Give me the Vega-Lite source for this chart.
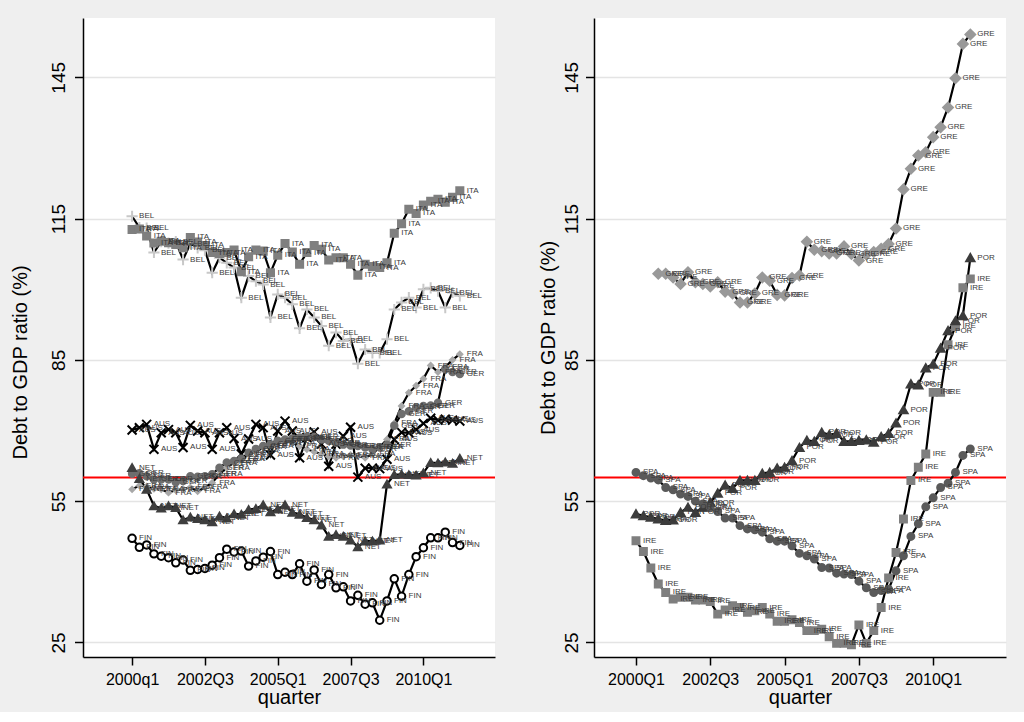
{
  "$schema": "https://vega.github.io/schema/vega-lite/v6.json",
  "autosize": {"type": "pad"},
  "padding": {"left": 10, "top": 18, "right": 18, "bottom": 5},
  "background": "#efefef",
  "spacing": 99,
  "bounds": "flush",
  "resolve": {"scale": {"shape": "independent", "fill": "independent", "stroke": "independent", "size": "independent", "color": "independent"}},
  "config": {
    "font": "Liberation Sans",
    "view": {"stroke": null, "fill": "white"},
    "axis": {
      "domainColor": "black", "domainWidth": 1.5, "tickColor": "black", "tickWidth": 1.5,
      "gridColor": "#e4e4e4", "gridWidth": 1.6, "labelColor": "black", "titleColor": "black",
      "titleFontWeight": "normal", "labelFont": "Liberation Sans", "titleFont": "Liberation Sans"
    },
    "axisX": {"labelFontSize": 16, "labelPadding": 6, "titleFontSize": 20, "titlePadding": 0, "grid": false, "tickSize": 8},
    "axisY": {"labelAngle": -90, "labelAlign": "center", "labelBaseline": "alphabetic", "labelFontSize": 19, "grid": true, "titleFontSize": 20, "titleAngle": -90, "titleAlign": "center", "titleBaseline": "middle", "tickSize": 8.5}
  },
  "datasets": {
    "left": [
      {"c":"AUS","q":0,"v":70.1},{"c":"AUS","q":1,"v":70.6},{"c":"AUS","q":2,"v":71.3},{"c":"AUS","q":3,"v":66.0},{"c":"AUS","q":4,"v":69.5},{"c":"AUS","q":5,"v":70.2},{"c":"AUS","q":6,"v":69.5},{"c":"AUS","q":7,"v":66.4},{"c":"AUS","q":8,"v":71.1},{"c":"AUS","q":9,"v":69.9},
      {"c":"AUS","q":10,"v":69.5},{"c":"AUS","q":11,"v":66.0},{"c":"AUS","q":12,"v":69.5},{"c":"AUS","q":13,"v":70.6},{"c":"AUS","q":14,"v":68.3},{"c":"AUS","q":15,"v":65.0},{"c":"AUS","q":16,"v":68.2},{"c":"AUS","q":17,"v":71.3},{"c":"AUS","q":18,"v":70.6},{"c":"AUS","q":19,"v":64.8},
      {"c":"AUS","q":20,"v":69.9},{"c":"AUS","q":21,"v":72.0},{"c":"AUS","q":22,"v":69.9},{"c":"AUS","q":23,"v":64.2},{"c":"AUS","q":24,"v":68.5},{"c":"AUS","q":25,"v":69.7},{"c":"AUS","q":26,"v":67.1},{"c":"AUS","q":27,"v":62.4},{"c":"AUS","q":28,"v":67.1},{"c":"AUS","q":29,"v":68.8},
      {"c":"AUS","q":30,"v":70.7},{"c":"AUS","q":31,"v":60.1},{"c":"AUS","q":32,"v":62.0},{"c":"AUS","q":33,"v":62.0},{"c":"AUS","q":34,"v":61.9},{"c":"AUS","q":35,"v":63.9},{"c":"AUS","q":36,"v":68.1},{"c":"AUS","q":37,"v":69.6},{"c":"AUS","q":38,"v":69.5},{"c":"AUS","q":39,"v":70.2},
      {"c":"AUS","q":40,"v":71.5},{"c":"AUS","q":41,"v":72.6},{"c":"AUS","q":42,"v":72.2},{"c":"AUS","q":43,"v":72.4},{"c":"AUS","q":44,"v":72.2},{"c":"AUS","q":45,"v":72.0},
      {"c":"BEL","q":0,"v":115.5},{"c":"BEL","q":1,"v":113.1},{"c":"BEL","q":2,"v":113.0},{"c":"BEL","q":3,"v":107.8},{"c":"BEL","q":4,"v":110.1},{"c":"BEL","q":5,"v":109.8},{"c":"BEL","q":6,"v":110.1},{"c":"BEL","q":7,"v":106.3},{"c":"BEL","q":8,"v":109.7},{"c":"BEL","q":9,"v":108.8},
      {"c":"BEL","q":10,"v":108.3},{"c":"BEL","q":11,"v":103.5},{"c":"BEL","q":12,"v":106.7},{"c":"BEL","q":13,"v":105.6},{"c":"BEL","q":14,"v":104.6},{"c":"BEL","q":15,"v":98.2},{"c":"BEL","q":16,"v":102.8},{"c":"BEL","q":17,"v":101.7},{"c":"BEL","q":18,"v":101.0},{"c":"BEL","q":19,"v":94.0},
      {"c":"BEL","q":20,"v":98.9},{"c":"BEL","q":21,"v":98.2},{"c":"BEL","q":22,"v":96.8},{"c":"BEL","q":23,"v":91.7},{"c":"BEL","q":24,"v":95.7},{"c":"BEL","q":25,"v":94.0},{"c":"BEL","q":26,"v":92.2},{"c":"BEL","q":27,"v":88.0},{"c":"BEL","q":28,"v":90.8},{"c":"BEL","q":29,"v":89.0},
      {"c":"BEL","q":30,"v":89.4},{"c":"BEL","q":31,"v":84.2},{"c":"BEL","q":32,"v":87.2},{"c":"BEL","q":33,"v":86.5},{"c":"BEL","q":34,"v":86.5},{"c":"BEL","q":35,"v":89.4},{"c":"BEL","q":36,"v":95.7},{"c":"BEL","q":37,"v":97.2},{"c":"BEL","q":38,"v":98.2},{"c":"BEL","q":39,"v":96.1},
      {"c":"BEL","q":40,"v":100.0},{"c":"BEL","q":41,"v":100.3},{"c":"BEL","q":42,"v":99.6},{"c":"BEL","q":43,"v":96.1},{"c":"BEL","q":44,"v":99.3},{"c":"BEL","q":45,"v":98.6},
      {"c":"FRA","q":0,"v":57.5},{"c":"FRA","q":1,"v":58.3},{"c":"FRA","q":2,"v":58.1},{"c":"FRA","q":3,"v":57.6},{"c":"FRA","q":4,"v":57.5},{"c":"FRA","q":5,"v":56.8},{"c":"FRA","q":6,"v":57.3},{"c":"FRA","q":7,"v":57.6},{"c":"FRA","q":8,"v":57.9},{"c":"FRA","q":9,"v":57.1},
      {"c":"FRA","q":10,"v":57.9},{"c":"FRA","q":11,"v":58.9},{"c":"FRA","q":12,"v":60.7},{"c":"FRA","q":13,"v":62.1},{"c":"FRA","q":14,"v":63.2},{"c":"FRA","q":15,"v":63.9},{"c":"FRA","q":16,"v":64.9},{"c":"FRA","q":17,"v":65.6},{"c":"FRA","q":18,"v":66.4},{"c":"FRA","q":19,"v":66.7},
      {"c":"FRA","q":20,"v":67.4},{"c":"FRA","q":21,"v":68.1},{"c":"FRA","q":22,"v":67.4},{"c":"FRA","q":23,"v":66.7},{"c":"FRA","q":24,"v":66.0},{"c":"FRA","q":25,"v":65.5},{"c":"FRA","q":26,"v":65.0},{"c":"FRA","q":27,"v":64.5},{"c":"FRA","q":28,"v":64.2},{"c":"FRA","q":29,"v":64.5},
      {"c":"FRA","q":30,"v":64.8},{"c":"FRA","q":31,"v":64.6},{"c":"FRA","q":32,"v":64.2},{"c":"FRA","q":33,"v":65.0},{"c":"FRA","q":34,"v":66.5},{"c":"FRA","q":35,"v":68.1},{"c":"FRA","q":36,"v":71.5},{"c":"FRA","q":37,"v":75.2},{"c":"FRA","q":38,"v":78.0},{"c":"FRA","q":39,"v":79.5},
      {"c":"FRA","q":40,"v":81.0},{"c":"FRA","q":41,"v":83.8},{"c":"FRA","q":42,"v":82.4},{"c":"FRA","q":43,"v":83.5},{"c":"FRA","q":44,"v":85.0},{"c":"FRA","q":45,"v":86.2},
      {"c":"GER","q":0,"v":60.8},{"c":"GER","q":1,"v":60.9},{"c":"GER","q":2,"v":60.3},{"c":"GER","q":3,"v":59.6},{"c":"GER","q":4,"v":59.6},{"c":"GER","q":5,"v":59.6},{"c":"GER","q":6,"v":59.0},{"c":"GER","q":7,"v":59.3},{"c":"GER","q":8,"v":60.3},{"c":"GER","q":9,"v":60.2},
      {"c":"GER","q":10,"v":60.3},{"c":"GER","q":11,"v":60.7},{"c":"GER","q":12,"v":62.1},{"c":"GER","q":13,"v":63.2},{"c":"GER","q":14,"v":63.5},{"c":"GER","q":15,"v":64.0},{"c":"GER","q":16,"v":65.3},{"c":"GER","q":17,"v":66.1},{"c":"GER","q":18,"v":66.7},{"c":"GER","q":19,"v":67.1},
      {"c":"GER","q":20,"v":67.8},{"c":"GER","q":21,"v":68.1},{"c":"GER","q":22,"v":68.3},{"c":"GER","q":23,"v":68.5},{"c":"GER","q":24,"v":68.7},{"c":"GER","q":25,"v":68.6},{"c":"GER","q":26,"v":68.1},{"c":"GER","q":27,"v":67.8},{"c":"GER","q":28,"v":67.4},{"c":"GER","q":29,"v":67.0},
      {"c":"GER","q":30,"v":66.8},{"c":"GER","q":31,"v":66.7},{"c":"GER","q":32,"v":66.4},{"c":"GER","q":33,"v":66.0},{"c":"GER","q":34,"v":66.4},{"c":"GER","q":35,"v":67.0},{"c":"GER","q":36,"v":71.0},{"c":"GER","q":37,"v":73.5},{"c":"GER","q":38,"v":74.1},{"c":"GER","q":39,"v":74.9},
      {"c":"GER","q":40,"v":75.2},{"c":"GER","q":41,"v":75.3},{"c":"GER","q":42,"v":75.9},{"c":"GER","q":43,"v":83.0},{"c":"GER","q":44,"v":82.4},{"c":"GER","q":45,"v":82.0},
      {"c":"ITA","q":0,"v":112.7},{"c":"ITA","q":1,"v":112.8},{"c":"ITA","q":2,"v":111.3},{"c":"ITA","q":3,"v":109.8},{"c":"ITA","q":4,"v":110.2},{"c":"ITA","q":5,"v":109.9},{"c":"ITA","q":6,"v":109.5},{"c":"ITA","q":7,"v":108.8},{"c":"ITA","q":8,"v":111.0},{"c":"ITA","q":9,"v":110.0},
      {"c":"ITA","q":10,"v":109.3},{"c":"ITA","q":11,"v":107.8},{"c":"ITA","q":12,"v":107.6},{"c":"ITA","q":13,"v":107.8},{"c":"ITA","q":14,"v":108.3},{"c":"ITA","q":15,"v":103.7},{"c":"ITA","q":16,"v":106.9},{"c":"ITA","q":17,"v":108.3},{"c":"ITA","q":18,"v":108.1},{"c":"ITA","q":19,"v":103.5},
      {"c":"ITA","q":20,"v":107.2},{"c":"ITA","q":21,"v":109.7},{"c":"ITA","q":22,"v":107.9},{"c":"ITA","q":23,"v":105.3},{"c":"ITA","q":24,"v":107.8},{"c":"ITA","q":25,"v":109.3},{"c":"ITA","q":26,"v":108.5},{"c":"ITA","q":27,"v":106.2},{"c":"ITA","q":28,"v":106.7},{"c":"ITA","q":29,"v":106.7},
      {"c":"ITA","q":30,"v":105.3},{"c":"ITA","q":31,"v":103.0},{"c":"ITA","q":32,"v":105.3},{"c":"ITA","q":33,"v":104.8},{"c":"ITA","q":34,"v":104.6},{"c":"ITA","q":35,"v":105.6},{"c":"ITA","q":36,"v":111.9},{"c":"ITA","q":37,"v":113.9},{"c":"ITA","q":38,"v":117.0},{"c":"ITA","q":39,"v":116.1},
      {"c":"ITA","q":40,"v":117.9},{"c":"ITA","q":41,"v":118.7},{"c":"ITA","q":42,"v":119.1},{"c":"ITA","q":43,"v":118.5},{"c":"ITA","q":44,"v":119.5},{"c":"ITA","q":45,"v":120.9},
      {"c":"NET","q":0,"v":62.1},{"c":"NET","q":1,"v":59.8},{"c":"NET","q":2,"v":57.5},{"c":"NET","q":3,"v":54.0},{"c":"NET","q":4,"v":53.5},{"c":"NET","q":5,"v":54.0},{"c":"NET","q":6,"v":53.6},{"c":"NET","q":7,"v":51.0},{"c":"NET","q":8,"v":51.6},{"c":"NET","q":9,"v":51.3},
      {"c":"NET","q":10,"v":51.0},{"c":"NET","q":11,"v":50.6},{"c":"NET","q":12,"v":51.8},{"c":"NET","q":13,"v":51.4},{"c":"NET","q":14,"v":52.3},{"c":"NET","q":15,"v":52.2},{"c":"NET","q":16,"v":53.2},{"c":"NET","q":17,"v":53.4},{"c":"NET","q":18,"v":54.2},{"c":"NET","q":19,"v":52.7},
      {"c":"NET","q":20,"v":53.3},{"c":"NET","q":21,"v":54.2},{"c":"NET","q":22,"v":52.6},{"c":"NET","q":23,"v":52.2},{"c":"NET","q":24,"v":51.5},{"c":"NET","q":25,"v":51.0},{"c":"NET","q":26,"v":49.9},{"c":"NET","q":27,"v":47.5},{"c":"NET","q":28,"v":47.9},{"c":"NET","q":29,"v":47.5},
      {"c":"NET","q":30,"v":46.7},{"c":"NET","q":31,"v":45.3},{"c":"NET","q":32,"v":46.5},{"c":"NET","q":33,"v":46.5},{"c":"NET","q":34,"v":46.7},{"c":"NET","q":35,"v":58.6},{"c":"NET","q":36,"v":60.6},{"c":"NET","q":37,"v":60.7},{"c":"NET","q":38,"v":60.6},{"c":"NET","q":39,"v":60.5},
      {"c":"NET","q":40,"v":61.0},{"c":"NET","q":41,"v":63.2},{"c":"NET","q":42,"v":63.1},{"c":"NET","q":43,"v":63.3},{"c":"NET","q":44,"v":63.0},{"c":"NET","q":45,"v":64.1},
      {"c":"FIN","q":0,"v":47.1},{"c":"FIN","q":1,"v":45.2},{"c":"FIN","q":2,"v":45.7},{"c":"FIN","q":3,"v":43.8},{"c":"FIN","q":4,"v":43.3},{"c":"FIN","q":5,"v":43.0},{"c":"FIN","q":6,"v":41.9},{"c":"FIN","q":7,"v":42.5},{"c":"FIN","q":8,"v":40.3},{"c":"FIN","q":9,"v":40.5},
      {"c":"FIN","q":10,"v":40.7},{"c":"FIN","q":11,"v":41.4},{"c":"FIN","q":12,"v":43.0},{"c":"FIN","q":13,"v":44.8},{"c":"FIN","q":14,"v":44.2},{"c":"FIN","q":15,"v":44.4},{"c":"FIN","q":16,"v":41.2},{"c":"FIN","q":17,"v":42.3},{"c":"FIN","q":18,"v":43.1},{"c":"FIN","q":19,"v":44.3},
      {"c":"FIN","q":20,"v":39.4},{"c":"FIN","q":21,"v":39.9},{"c":"FIN","q":22,"v":39.4},{"c":"FIN","q":23,"v":41.7},{"c":"FIN","q":24,"v":38.0},{"c":"FIN","q":25,"v":40.4},{"c":"FIN","q":26,"v":37.3},{"c":"FIN","q":27,"v":39.4},{"c":"FIN","q":28,"v":36.6},{"c":"FIN","q":29,"v":36.8},
      {"c":"FIN","q":30,"v":33.8},{"c":"FIN","q":31,"v":35.0},{"c":"FIN","q":32,"v":33.1},{"c":"FIN","q":33,"v":33.4},{"c":"FIN","q":34,"v":29.7},{"c":"FIN","q":35,"v":33.8},{"c":"FIN","q":36,"v":38.5},{"c":"FIN","q":37,"v":34.8},{"c":"FIN","q":38,"v":39.4},{"c":"FIN","q":39,"v":43.2},
      {"c":"FIN","q":40,"v":45.1},{"c":"FIN","q":41,"v":47.2},{"c":"FIN","q":42,"v":47.2},{"c":"FIN","q":43,"v":48.4},{"c":"FIN","q":44,"v":46.2},{"c":"FIN","q":45,"v":45.6}
    ],
    "right": [
      {"c":"GRE","q":3,"v":103.3},{"c":"GRE","q":4,"v":103.3},{"c":"GRE","q":5,"v":102.5},{"c":"GRE","q":6,"v":101.1},{"c":"GRE","q":7,"v":103.6},{"c":"GRE","q":8,"v":101.5},{"c":"GRE","q":9,"v":101.1},
      {"c":"GRE","q":10,"v":100.6},{"c":"GRE","q":11,"v":101.5},{"c":"GRE","q":12,"v":99.5},{"c":"GRE","q":13,"v":99.1},{"c":"GRE","q":14,"v":97.2},{"c":"GRE","q":15,"v":97.2},{"c":"GRE","q":16,"v":99.1},{"c":"GRE","q":17,"v":102.5},{"c":"GRE","q":18,"v":101.8},{"c":"GRE","q":19,"v":98.8},
      {"c":"GRE","q":20,"v":98.7},{"c":"GRE","q":21,"v":102.4},{"c":"GRE","q":22,"v":102.9},{"c":"GRE","q":23,"v":110.1},{"c":"GRE","q":24,"v":108.4},{"c":"GRE","q":25,"v":108.1},{"c":"GRE","q":26,"v":107.6},{"c":"GRE","q":27,"v":107.6},{"c":"GRE","q":28,"v":109.1},{"c":"GRE","q":29,"v":107.5},
      {"c":"GRE","q":30,"v":106.1},{"c":"GRE","q":31,"v":107.4},{"c":"GRE","q":32,"v":107.9},{"c":"GRE","q":33,"v":108.6},{"c":"GRE","q":34,"v":109.6},{"c":"GRE","q":35,"v":112.9},{"c":"GRE","q":36,"v":121.2},{"c":"GRE","q":37,"v":125.6},{"c":"GRE","q":38,"v":128.4},{"c":"GRE","q":39,"v":129.1},
      {"c":"GRE","q":40,"v":132.3},{"c":"GRE","q":41,"v":134.4},{"c":"GRE","q":42,"v":138.6},{"c":"GRE","q":43,"v":144.8},{"c":"GRE","q":44,"v":152.1},{"c":"GRE","q":45,"v":154.1},
      {"c":"IRE","q":0,"v":46.6},{"c":"IRE","q":1,"v":44.3},{"c":"IRE","q":2,"v":40.8},{"c":"IRE","q":3,"v":37.4},{"c":"IRE","q":4,"v":35.6},{"c":"IRE","q":5,"v":34.2},{"c":"IRE","q":6,"v":34.6},{"c":"IRE","q":7,"v":34.6},{"c":"IRE","q":8,"v":34.0},{"c":"IRE","q":9,"v":34.0},
      {"c":"IRE","q":10,"v":33.7},{"c":"IRE","q":11,"v":31.0},{"c":"IRE","q":12,"v":31.9},{"c":"IRE","q":13,"v":32.8},{"c":"IRE","q":14,"v":32.4},{"c":"IRE","q":15,"v":31.4},{"c":"IRE","q":16,"v":31.7},{"c":"IRE","q":17,"v":32.4},{"c":"IRE","q":18,"v":31.0},{"c":"IRE","q":19,"v":29.5},
      {"c":"IRE","q":20,"v":29.5},{"c":"IRE","q":21,"v":29.8},{"c":"IRE","q":22,"v":29.2},{"c":"IRE","q":23,"v":27.5},{"c":"IRE","q":24,"v":27.5},{"c":"IRE","q":25,"v":27.8},{"c":"IRE","q":26,"v":26.2},{"c":"IRE","q":27,"v":24.8},{"c":"IRE","q":28,"v":24.8},{"c":"IRE","q":29,"v":24.5},
      {"c":"IRE","q":30,"v":28.7},{"c":"IRE","q":31,"v":24.8},{"c":"IRE","q":32,"v":27.5},{"c":"IRE","q":33,"v":32.4},{"c":"IRE","q":34,"v":38.7},{"c":"IRE","q":35,"v":44.1},{"c":"IRE","q":36,"v":51.2},{"c":"IRE","q":37,"v":59.4},{"c":"IRE","q":38,"v":62.2},{"c":"IRE","q":39,"v":65.0},
      {"c":"IRE","q":40,"v":78.1},{"c":"IRE","q":41,"v":78.1},{"c":"IRE","q":42,"v":88.2},{"c":"IRE","q":43,"v":92.1},{"c":"IRE","q":44,"v":100.3},{"c":"IRE","q":45,"v":102.2},
      {"c":"POR","q":0,"v":52.3},{"c":"POR","q":1,"v":51.9},{"c":"POR","q":2,"v":51.6},{"c":"POR","q":3,"v":51.2},{"c":"POR","q":4,"v":50.9},{"c":"POR","q":5,"v":51.0},{"c":"POR","q":6,"v":52.6},{"c":"POR","q":7,"v":53.7},{"c":"POR","q":8,"v":52.6},{"c":"POR","q":9,"v":53.7},
      {"c":"POR","q":10,"v":54.7},{"c":"POR","q":11,"v":56.7},{"c":"POR","q":12,"v":58.4},{"c":"POR","q":13,"v":57.7},{"c":"POR","q":14,"v":59.4},{"c":"POR","q":15,"v":59.4},{"c":"POR","q":16,"v":59.4},{"c":"POR","q":17,"v":60.9},{"c":"POR","q":18,"v":61.1},{"c":"POR","q":19,"v":62.0},
      {"c":"POR","q":20,"v":62.2},{"c":"POR","q":21,"v":63.6},{"c":"POR","q":22,"v":66.4},{"c":"POR","q":23,"v":67.9},{"c":"POR","q":24,"v":67.7},{"c":"POR","q":25,"v":69.6},{"c":"POR","q":26,"v":69.1},{"c":"POR","q":27,"v":69.4},{"c":"POR","q":28,"v":67.7},{"c":"POR","q":29,"v":67.7},
      {"c":"POR","q":30,"v":67.9},{"c":"POR","q":31,"v":68.0},{"c":"POR","q":32,"v":67.5},{"c":"POR","q":33,"v":68.7},{"c":"POR","q":34,"v":69.4},{"c":"POR","q":35,"v":71.6},{"c":"POR","q":36,"v":74.4},{"c":"POR","q":37,"v":79.9},{"c":"POR","q":38,"v":79.7},{"c":"POR","q":39,"v":83.3},
      {"c":"POR","q":40,"v":84.1},{"c":"POR","q":41,"v":87.5},{"c":"POR","q":42,"v":91.2},{"c":"POR","q":43,"v":93.3},{"c":"POR","q":44,"v":94.4},{"c":"POR","q":45,"v":106.7},
      {"c":"SPA","q":0,"v":61.1},{"c":"SPA","q":1,"v":60.4},{"c":"SPA","q":2,"v":59.9},{"c":"SPA","q":3,"v":59.5},{"c":"SPA","q":4,"v":57.9},{"c":"SPA","q":5,"v":57.4},{"c":"SPA","q":6,"v":56.5},{"c":"SPA","q":7,"v":56.0},{"c":"SPA","q":8,"v":55.0},{"c":"SPA","q":9,"v":54.4},
      {"c":"SPA","q":10,"v":53.6},{"c":"SPA","q":11,"v":52.8},{"c":"SPA","q":12,"v":51.4},{"c":"SPA","q":13,"v":51.4},{"c":"SPA","q":14,"v":49.8},{"c":"SPA","q":15,"v":49.1},{"c":"SPA","q":16,"v":48.9},{"c":"SPA","q":17,"v":48.4},{"c":"SPA","q":18,"v":47.0},{"c":"SPA","q":19,"v":46.5},
      {"c":"SPA","q":20,"v":46.5},{"c":"SPA","q":21,"v":45.5},{"c":"SPA","q":22,"v":43.9},{"c":"SPA","q":23,"v":43.4},{"c":"SPA","q":24,"v":42.7},{"c":"SPA","q":25,"v":40.9},{"c":"SPA","q":26,"v":40.8},{"c":"SPA","q":27,"v":39.7},{"c":"SPA","q":28,"v":39.5},{"c":"SPA","q":29,"v":39.4},
      {"c":"SPA","q":30,"v":38.0},{"c":"SPA","q":31,"v":36.6},{"c":"SPA","q":32,"v":35.6},{"c":"SPA","q":33,"v":36.0},{"c":"SPA","q":34,"v":36.3},{"c":"SPA","q":35,"v":40.2},{"c":"SPA","q":36,"v":43.4},{"c":"SPA","q":37,"v":47.5},{"c":"SPA","q":38,"v":50.2},{"c":"SPA","q":39,"v":53.8},
      {"c":"SPA","q":40,"v":55.7},{"c":"SPA","q":41,"v":57.9},{"c":"SPA","q":42,"v":58.8},{"c":"SPA","q":43,"v":61.1},{"c":"SPA","q":44,"v":64.7},{"c":"SPA","q":45,"v":66.1}
    ]
  },
  "hconcat": [
    {
      "width": 412,
      "height": 639,
      "layer": [
        {
          "data": {"values": [{"ref": 60}]},
          "mark": {"type": "rule", "color": "#ff0000", "strokeWidth": 2},
          "encoding": {
            "y": {"field": "ref", "type": "quantitative", "scale": {"domain": [21.9, 157.6], "nice": false, "zero": false},
                  "axis": {"values": [25, 55, 85, 115, 145], "title": "Debt to GDP ratio (%)", "titleX": -63, "titleY": 344, "labelPadding": 10}}
          }
        },
        {
          "data": {"name": "left"},
          "mark": {"type": "line", "color": "black", "strokeWidth": 2.2},
          "encoding": {
            "x": {"field": "q", "type": "quantitative", "scale": {"domain": [-6.74, 49.83], "nice": false, "zero": false},
                  "axis": {"values": [0, 10, 20, 30, 40], "labelExpr": "['2000q1','2002Q3','2005Q1','2007Q3','2010Q1'][round(datum.value/10)]", "title": "quarter"}},
            "y": {"field": "v", "type": "quantitative", "scale": {"domain": [21.9, 157.6], "nice": false, "zero": false},
                  "axis": {"values": [25, 55, 85, 115, 145], "title": "Debt to GDP ratio (%)", "titleX": -63, "titleY": 344, "labelPadding": 10}},
            "detail": {"field": "c"}
          }
        },
        {
          "data": {"name": "left"},
          "mark": {"type": "point", "filled": true, "opacity": 1, "strokeWidth": 2},
          "encoding": {
            "x": {"field": "q", "type": "quantitative", "scale": {"domain": [-6.74, 49.83], "nice": false, "zero": false},
                  "axis": {"values": [0, 10, 20, 30, 40], "labelExpr": "['2000q1','2002Q3','2005Q1','2007Q3','2010Q1'][round(datum.value/10)]", "title": "quarter"}},
            "y": {"field": "v", "type": "quantitative", "scale": {"domain": [21.9, 157.6], "nice": false, "zero": false},
                  "axis": {"values": [25, 55, 85, 115, 145], "title": "Debt to GDP ratio (%)", "titleX": -63, "titleY": 344, "labelPadding": 10}},
            "shape": {"field": "c", "type": "nominal", "legend": null,
                      "scale": {"domain": ["AUS", "BEL", "FRA", "GER", "ITA", "NET", "FIN"],
                                "range": ["M-1,-1L1,1M-1,1L1,-1", "M-1,0L1,0M0,-1L0,1", "diamond", "circle", "square", "triangle-up", "circle"]}},
            "fill": {"field": "c", "type": "nominal", "legend": null,
                     "scale": {"domain": ["AUS", "BEL", "FRA", "GER", "ITA", "NET", "FIN"],
                               "range": ["transparent", "transparent", "#a8a8a8", "#6e6e6e", "#7f7f7f", "#3f3f3f", "white"]}},
            "stroke": {"field": "c", "type": "nominal", "legend": null,
                       "scale": {"domain": ["AUS", "BEL", "FRA", "GER", "ITA", "NET", "FIN"],
                                 "range": ["black", "#c8c8c8", "#a8a8a8", "#6e6e6e", "#7f7f7f", "#3f3f3f", "black"]}},
            "size": {"field": "c", "type": "nominal", "legend": null,
                     "scale": {"type": "ordinal", "domain": ["AUS", "BEL", "FRA", "GER", "ITA", "NET", "FIN"],
                               "range": [80, 125, 26, 42, 50, 60, 56]}}
          }
        },
        {
          "data": {"name": "left"},
          "mark": {"type": "text", "align": "left", "baseline": "middle", "dx": 7, "fontSize": 8, "fill": "#3a3a3a"},
          "encoding": {
            "x": {"field": "q", "type": "quantitative", "scale": {"domain": [-6.74, 49.83], "nice": false, "zero": false},
                  "axis": {"values": [0, 10, 20, 30, 40], "labelExpr": "['2000q1','2002Q3','2005Q1','2007Q3','2010Q1'][round(datum.value/10)]", "title": "quarter"}},
            "y": {"field": "v", "type": "quantitative", "scale": {"domain": [21.9, 157.6], "nice": false, "zero": false},
                  "axis": {"values": [25, 55, 85, 115, 145], "title": "Debt to GDP ratio (%)", "titleX": -63, "titleY": 344, "labelPadding": 10}},
            "text": {"field": "c"}
          }
        }
      ]
    },
    {
      "width": 412,
      "height": 639,
      "layer": [
        {
          "data": {"values": [{"ref": 60}]},
          "mark": {"type": "rule", "color": "#ff0000", "strokeWidth": 2},
          "encoding": {
            "y": {"field": "ref", "type": "quantitative", "scale": {"domain": [21.9, 157.6], "nice": false, "zero": false},
                  "axis": {"values": [25, 55, 85, 115, 145], "title": "Debt to GDP ratio (%)", "titleX": -46, "titleY": 319.5, "labelPadding": 8.3}}
          }
        },
        {
          "data": {"name": "right"},
          "mark": {"type": "line", "color": "black", "strokeWidth": 2.2},
          "encoding": {
            "x": {"field": "q", "type": "quantitative", "scale": {"domain": [-5.65, 49.8], "nice": false, "zero": false},
                  "axis": {"values": [0, 10, 20, 30, 40], "labelExpr": "['2000Q1','2002Q3','2005Q1','2007Q3','2010Q1'][round(datum.value/10)]", "title": "quarter"}},
            "y": {"field": "v", "type": "quantitative", "scale": {"domain": [21.9, 157.6], "nice": false, "zero": false},
                  "axis": {"values": [25, 55, 85, 115, 145], "title": "Debt to GDP ratio (%)", "titleX": -46, "titleY": 319.5, "labelPadding": 8.3}},
            "detail": {"field": "c"}
          }
        },
        {
          "data": {"name": "right"},
          "mark": {"type": "point", "filled": true, "opacity": 1, "strokeWidth": 2},
          "encoding": {
            "x": {"field": "q", "type": "quantitative", "scale": {"domain": [-5.65, 49.8], "nice": false, "zero": false},
                  "axis": {"values": [0, 10, 20, 30, 40], "labelExpr": "['2000Q1','2002Q3','2005Q1','2007Q3','2010Q1'][round(datum.value/10)]", "title": "quarter"}},
            "y": {"field": "v", "type": "quantitative", "scale": {"domain": [21.9, 157.6], "nice": false, "zero": false},
                  "axis": {"values": [25, 55, 85, 115, 145], "title": "Debt to GDP ratio (%)", "titleX": -46, "titleY": 319.5, "labelPadding": 8.3}},
            "shape": {"field": "c", "type": "nominal", "legend": null,
                      "scale": {"domain": ["GRE", "IRE", "POR", "SPA"], "range": ["diamond", "square", "triangle-up", "circle"]}},
            "fill": {"field": "c", "type": "nominal", "legend": null,
                     "scale": {"domain": ["GRE", "IRE", "POR", "SPA"], "range": ["#999999", "#7f7f7f", "#3c3c3c", "#5a5a5a"]}},
            "stroke": {"field": "c", "type": "nominal", "legend": null,
                       "scale": {"domain": ["GRE", "IRE", "POR", "SPA"], "range": ["#999999", "#7f7f7f", "#3c3c3c", "#5a5a5a"]}},
            "size": {"field": "c", "type": "nominal", "legend": null,
                     "scale": {"type": "ordinal", "domain": ["GRE", "IRE", "POR", "SPA"], "range": [95, 48, 68, 48]}}
          }
        },
        {
          "data": {"name": "right"},
          "mark": {"type": "text", "align": "left", "baseline": "middle", "dx": 7, "fontSize": 8, "fill": "#3a3a3a"},
          "encoding": {
            "x": {"field": "q", "type": "quantitative", "scale": {"domain": [-5.65, 49.8], "nice": false, "zero": false},
                  "axis": {"values": [0, 10, 20, 30, 40], "labelExpr": "['2000Q1','2002Q3','2005Q1','2007Q3','2010Q1'][round(datum.value/10)]", "title": "quarter"}},
            "y": {"field": "v", "type": "quantitative", "scale": {"domain": [21.9, 157.6], "nice": false, "zero": false},
                  "axis": {"values": [25, 55, 85, 115, 145], "title": "Debt to GDP ratio (%)", "titleX": -46, "titleY": 319.5, "labelPadding": 8.3}},
            "text": {"field": "c"}
          }
        }
      ]
    }
  ]
}
